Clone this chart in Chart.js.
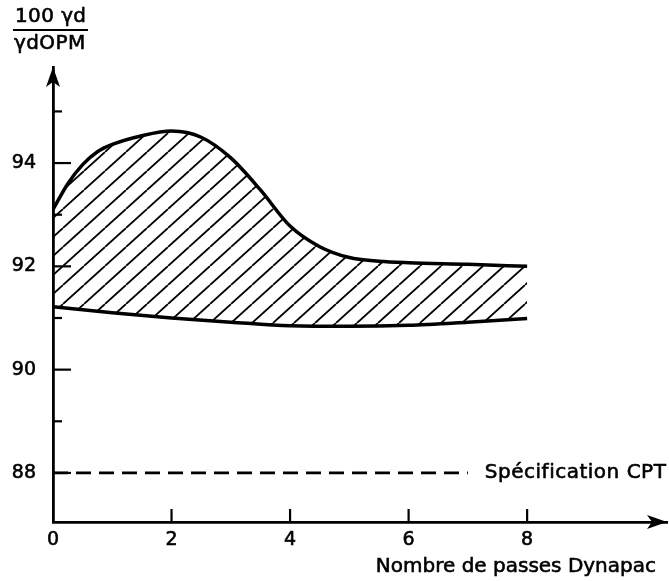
<!DOCTYPE html>
<html>
<head>
<meta charset="utf-8">
<script src="https://cdn.jsdelivr.net/npm/chart.js@4.4.0/dist/chart.umd.min.js"></script>
<style>
html, body { margin: 0; padding: 0; background: #fff; }
#wrap { width: 669px; height: 581px; }
</style>
</head>
<body>
<div id="wrap"><canvas id="myChart" width="669" height="581"></canvas></div>
<script>
// Nombre de passes Dynapac et limites du fuseau
var upperPasses = [0, 0.25, 0.5, 0.75, 1, 1.5, 2, 2.5, 3, 3.5, 4, 4.5, 5, 5.5, 6, 7, 8];
var upperValues = [93.1, 93.6, 93.97, 94.22, 94.36, 94.53, 94.62, 94.5, 94.1, 93.48, 92.78, 92.38, 92.17, 92.1, 92.07, 92.04, 92.0];
var lowerPasses = [0, 1, 2, 3, 4, 5, 6, 7, 8];
var lowerValues = [91.22, 91.1, 91.0, 90.92, 90.85, 90.84, 90.86, 90.92, 90.99];
// Spécification CPT
var specPasses = [0, 7];
var specValues = [88, 88];
var specLabel = "Spécification CPT";
var xTitle = "Nombre de passes Dynapac";
// Graduations
var xTicks = [0, 2, 4, 6, 8];
var yTicks = [88, 89, 90, 91, 92, 93, 94, 95];
var yLabels = [88, 90, 92, 94];

var FONT = "'DejaVu Sans', sans-serif";

function toPoints(xs, ys) {
    return xs.map(function (x, i) { return { x: x, y: ys[i] }; });
}

var canvas = document.getElementById("myChart");
var ctx = canvas.getContext("2d");

// motif hachuré pour le fuseau
function makeHatch() {
    var c = document.createElement("canvas");
    c.width = 21; c.height = 19;
    var g = c.getContext("2d");
    g.strokeStyle = "#000";
    g.lineWidth = 1.8;
    for (var k = -1; k <= 1; k++) {
        g.beginPath();
        g.moveTo(k * 21, 19);
        g.lineTo(k * 21 + 21, 0);
        g.stroke();
    }
    return ctx.createPattern(c, "repeat");
}

// texte un peu épaissi (comme l'impression d'origine)
function boldText(c, txt, x, y) {
    c.lineWidth = 0.6;
    c.strokeText(txt, x, y);
    c.fillText(txt, x, y);
}

// ticks vers l'intérieur, flèches, titres, texte de la spécification
var axesDecor = {
    id: "axesDecor",
    afterDraw: function (chart) {
        var c = chart.ctx, xs = chart.scales.x, ys = chart.scales.y;
        var x0 = xs.left, y0 = ys.bottom;
        c.save();
        c.strokeStyle = "#000";
        c.fillStyle = "#000";
        c.lineWidth = 2.2;
        xTicks.forEach(function (v) {
            if (v === 0) return;
            var px = xs.getPixelForValue(v);
            c.beginPath(); c.moveTo(px, y0); c.lineTo(px, y0 - 13); c.stroke();
        });
        yTicks.forEach(function (v) {
            var len = yLabels.indexOf(v) >= 0 ? 18 : 9;
            var py = ys.getPixelForValue(v);
            c.beginPath(); c.moveTo(x0, py); c.lineTo(x0 + len, py); c.stroke();
        });
        // flèche axe x
        var xr = xs.right;
        c.beginPath();
        c.moveTo(xr, y0); c.lineTo(xr - 20, y0 - 7); c.lineTo(xr - 15, y0); c.lineTo(xr - 20, y0 + 7);
        c.closePath(); c.fill();
        // flèche axe y
        var yt = ys.top;
        c.beginPath();
        c.moveTo(x0, yt); c.lineTo(x0 - 7, yt + 20); c.lineTo(x0, yt + 15); c.lineTo(x0 + 7, yt + 20);
        c.closePath(); c.fill();

        // titre de l'axe y
        c.font = "20px " + FONT;
        c.letterSpacing = "0.4px";
        c.textAlign = "left";
        c.textBaseline = "middle";
        boldText(c, "100 γd", 15, 17);
        c.lineWidth = 2;
        c.beginPath(); c.moveTo(13, 30); c.lineTo(88, 30); c.stroke();
        boldText(c, "γdOPM", 14, 44);

        // étiquette de la spécification
        c.letterSpacing = "0.5px";
        var sx = xs.getPixelForValue(specPasses[specPasses.length - 1]) + 17;
        var sy = ys.getPixelForValue(specValues[specValues.length - 1]);
        boldText(c, specLabel, sx, sy);

        // titre de l'axe x
        c.letterSpacing = "0px";
        c.textAlign = "right";
        boldText(c, xTitle, xr - 11, chart.height - 14);
        c.restore();
    }
};

var tickFont = { family: FONT, size: 19 };

var chart = new Chart(ctx, {
    type: "line",
    data: {
        datasets: [
            {
                label: "Limite supérieure",
                data: toPoints(upperPasses, upperValues),
                borderColor: "#000",
                borderWidth: 3.5,
                pointRadius: 0,
                cubicInterpolationMode: "monotone",
                fill: "+1",
                backgroundColor: makeHatch()
            },
            {
                label: "Limite inférieure",
                data: toPoints(lowerPasses, lowerValues),
                borderColor: "#000",
                borderWidth: 3.5,
                pointRadius: 0,
                cubicInterpolationMode: "monotone",
                fill: false
            },
            {
                label: specLabel,
                data: toPoints(specPasses, specValues),
                borderColor: "#000",
                borderWidth: 2.8,
                borderDash: [15, 8],
                pointRadius: 0,
                fill: false
            }
        ]
    },
    options: {
        responsive: false,
        animation: false,
        layout: { padding: { top: 67, right: 2, left: 0, bottom: 0 } },
        plugins: { legend: { display: false }, tooltip: { enabled: false } },
        scales: {
            x: {
                type: "linear",
                min: 0,
                max: 10.36,
                afterBuildTicks: function (s) { s.ticks = xTicks.map(function (v) { return { value: v }; }); },
                afterFit: function (s) { s.height = 59; },
                grid: { display: false, drawTicks: false },
                border: { display: true, color: "#000", width: 2.8 },
                ticks: {
                    color: "#000", font: tickFont, padding: 7, maxRotation: 0, autoSkip: false,
                    textStrokeColor: "#000", textStrokeWidth: 0.6
                }
            },
            y: {
                min: 87.05,
                max: 95.86,
                afterBuildTicks: function (s) { s.ticks = yTicks.map(function (v) { return { value: v }; }); },
                afterFit: function (s) { s.width = 53; },
                grid: { display: false, drawTicks: false },
                border: { display: true, color: "#000", width: 2.8 },
                ticks: {
                    color: "#000", font: tickFont, padding: 17, autoSkip: false,
                    textStrokeColor: "#000", textStrokeWidth: 0.6,
                    callback: function (v) { return yLabels.indexOf(v) >= 0 ? String(v) : ""; }
                }
            }
        }
    },
    plugins: [axesDecor]
});
</script>
</body>
</html>
